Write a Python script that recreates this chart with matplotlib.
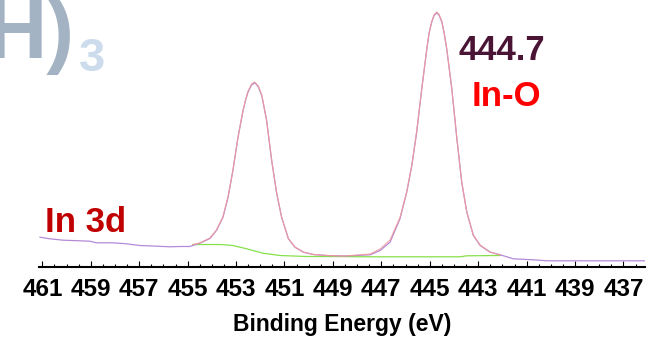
import matplotlib
matplotlib.use("Agg")
import matplotlib.pyplot as plt
from matplotlib.ticker import MultipleLocator

# ---------------------------------------------------
# Data (In 3d XPS)
# ---------------------------------------------------

data_be = [461.10, 460.69, 460.14, 459.45, 459.04, 458.77, 458.08, 457.53, 456.98,
           456.28, 455.73, 455.32, 454.91, 454.50, 454.08, 453.81, 453.54, 453.33,
           453.13, 452.92, 452.71, 452.61, 452.51, 452.36, 452.22, 452.08, 451.94,
           451.85, 451.74, 451.53, 451.32,
           451.12, 450.84, 450.57, 450.22, 449.81, 449.26, 448.50, 447.46, 447.05,
           446.64, 446.23, 445.95, 445.74, 445.54, 445.33, 445.12, 445.03, 444.92,
           444.82, 444.71, 444.61, 444.50, 444.41, 444.30, 444.09, 443.88, 443.68,
           443.47, 443.20, 442.92, 442.51,
           442.09, 441.55, 440.73, 440.16, 439.33, 437.96, 436.12]
data_cps = [2930, 2770, 2630, 2570, 2530, 2370, 2370, 2270, 2100,
            2030, 1970, 2000, 2000, 2330, 2800, 3600, 4930, 6930,
            9600, 12930, 15600, 16600, 17430, 18150, 18370, 17950, 17100,
            16000, 14600, 10600, 7270,
            4930, 2770, 1930, 1430, 1200, 1100, 1050, 1170, 1600,
            2430, 4770, 7430, 10100, 13430, 17770, 21770, 23300, 24430,
            25100, 25370, 25100, 24430, 23400, 21770, 17770, 12770, 8430,
            5430, 3100, 2100, 1430,
            1170, 770, 670, 570, 570, 570, 570]

fit_be = [454.78, 454.50, 454.08, 453.81, 453.54, 453.33, 453.13, 452.92, 452.71,
          452.61, 452.51, 452.36, 452.24, 452.08, 451.94, 451.85, 451.74, 451.53,
          451.32, 451.12, 450.84, 450.57, 450.22, 449.81, 449.26, 448.50, 447.46,
          447.05, 446.64, 446.23, 445.95, 445.74, 445.54, 445.33, 445.12, 445.03,
          444.92, 444.82, 444.71, 444.61, 444.50, 444.41, 444.30, 444.09, 443.88,
          443.68, 443.47, 443.20, 442.92, 442.51, 442.09]
fit_cps = [2200, 2350, 2850, 3650, 5000, 7000, 9650, 12950, 15650,
           16650, 17500, 18250, 18450, 18050, 17150, 16050, 14650, 10650,
           7300, 4950, 2800, 1950, 1450, 1200, 1100, 1050, 1250,
           1750, 2650, 4900, 7500, 10150, 13500, 17800, 21800, 23350,
           24500, 25200, 25450, 25200, 24500, 23450, 21800, 17800, 12800,
           8450, 5450, 3150, 2150, 1450, 1150]

bg_be = [454.78, 453.66, 453.13, 452.56, 451.89, 451.19, 450.08, 449.11, 447.46,
         445.39, 443.75, 443.47, 442.09]
bg_cps = [2200, 2200, 2100, 1770, 1330, 1100, 1000, 1000, 970,
          970, 970, 1070, 1100]

tick_values = list(range(461, 436, -2))

# ---------------------------------------------------
# Plot
# ---------------------------------------------------

plt.rcParams["font.family"] = ["Liberation Sans", "DejaVu Sans"]
plt.rcParams["font.weight"] = "bold"

fig = plt.figure(figsize=(6.66, 3.39), dpi=100)
ax = fig.add_axes([39 / 666, 1 - 266.5 / 339, 606 / 666, 266.5 / 339])

ax.plot(bg_be, bg_cps, color="#86e04a", lw=0.9)
ax.plot(data_be, data_cps, color="#b48ad6", lw=0.9)
ax.plot(fit_be, fit_cps, color="#f09a9a", lw=0.8, alpha=0.9)

ax.set_xlim(461.14, 436.11)
ax.set_ylim(0, 26650)

for side in ["left", "right", "top"]:
    ax.spines[side].set_visible(False)
ax.spines["bottom"].set_linewidth(1.5)

ax.set_yticks([])
ax.set_xticks(tick_values)
ax.xaxis.set_minor_locator(MultipleLocator(0.5))
ax.tick_params(axis="x", which="major", direction="in", length=4, width=0.8,
               labelsize=17.5, pad=8)
ax.tick_params(axis="x", which="minor", direction="in", length=2.5, width=0.8)
for lab in ax.get_xticklabels():
    lab.set_fontweight("bold")

ax.set_xlabel("Binding Energy (eV)", fontsize=16.5, fontweight="bold", labelpad=9)

# ---------------------------------------------------
# Annotations
# ---------------------------------------------------

ax.text(460.9, 3500, "In 3d", color="#c00000", fontsize=25, fontweight="bold",
        ha="left", va="baseline")
ax.text(443.83, 20600, "444.7", color="#4a1535", fontsize=25, fontweight="bold",
        ha="left", va="baseline")
ax.text(443.29, 16100, "In-O", color="#ff0000", fontsize=25, fontweight="bold",
        ha="left", va="baseline")

# cut-off title fragment in the top left corner
fig.text(74 / 666, 1 - 58 / 339, "H)", color="#a3b3c3", fontsize=60,
         fontweight="bold", ha="right", va="baseline")
fig.text(79 / 666, 1 - 71 / 339, "3", color="#cddcec", fontsize=34,
         fontweight="bold", ha="left", va="baseline")

fig.savefig("out.png", dpi=100, facecolor="white")
